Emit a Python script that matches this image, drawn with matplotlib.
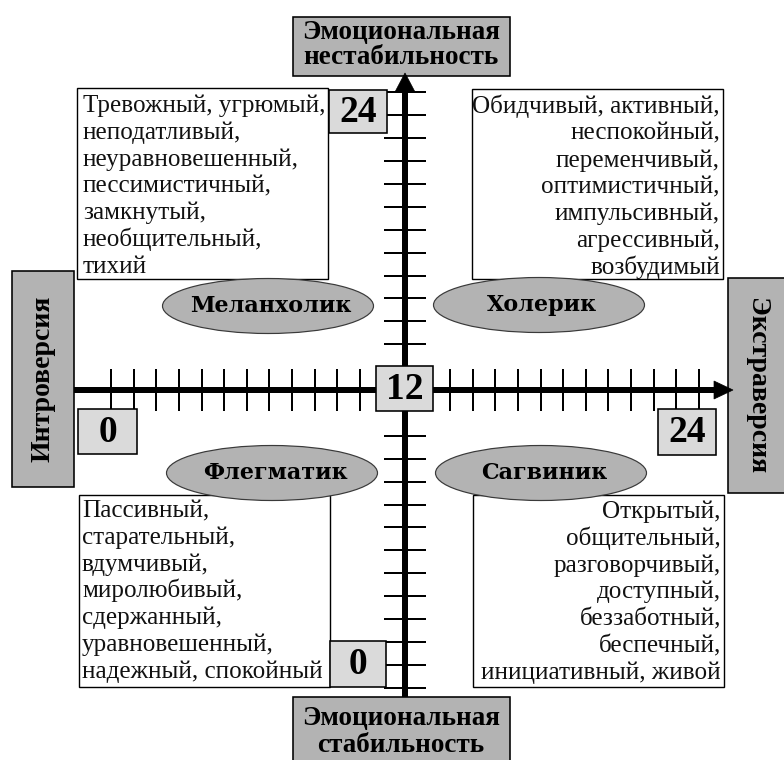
import matplotlib
matplotlib.use("Agg")
import matplotlib.pyplot as plt
from matplotlib.patches import Rectangle, Ellipse, Polygon

# ---------------- data ----------------
axis_top = "Эмоциональная\nнестабильность"
axis_bottom = "Эмоциональная\nстабильность"
axis_left = "Интроверсия"
axis_right = "Экстраверсия"

temperaments = ["Меланхолик", "Холерик", "Флегматик", "Сагвиник"]

traits_melancholic = ["Тревожный, угрюмый,", "неподатливый,", "неуравновешенный,",
                      "пессимистичный,", "замкнутый,", "необщительный,", "тихий"]
traits_choleric = ["Обидчивый, активный,", "неспокойный,", "переменчивый,",
                   "оптимистичный,", "импульсивный,", "агрессивный,", "возбудимый"]
traits_phlegmatic = ["Пассивный,", "старательный,", "вдумчивый,", "миролюбивый,",
                     "сдержанный,", "уравновешенный,", "надежный, спокойный"]
traits_sanguine = ["Открытый,", "общительный,", "разговорчивый,", "доступный,",
                   "беззаботный,", "беспечный,", "инициативный, живой"]

scale_min, scale_mid, scale_max = "0", "12", "24"
tick_steps = [k for k in range(-13, 14) if abs(k) >= 2]

# ---------------- layout ----------------
W, H = 784, 760
fig = plt.figure(figsize=(W / 100, H / 100), dpi=100)
ax = fig.add_axes([0, 0, 1, 1])
ax.set_xlim(0, W)
ax.set_ylim(H, 0)
ax.axis("off")

PX = 0.72  # px -> pt
GRAY = "#b3b3b3"
LIGHT = "#dadada"
cx, cy = 405, 390
sx, sy = 22.6, 22.9

BODY = dict(family="Liberation Serif", fontsize=18.1, color="#111111")
LAB = dict(family="Liberation Serif", fontweight="bold", fontsize=19.5, color="black")

def box(x0, y0, x1, y1, fc, lw=1.6, z=3):
    ax.add_patch(Rectangle((x0, y0), x1 - x0, y1 - y0, facecolor=fc,
                           edgecolor="black", lw=lw * PX, zorder=z))

# axis label boxes
box(293, 17, 510, 76, GRAY)
ax.text(401, 33, axis_top.split("\n")[0], ha="center", va="center", zorder=5, **LAB)
ax.text(401, 58, axis_top.split("\n")[1], ha="center", va="center", zorder=5, **LAB)
box(293, 697, 510, 775, GRAY)
ax.text(401, 718, axis_bottom.split("\n")[0], ha="center", va="center", zorder=5, **LAB)
ax.text(401, 745, axis_bottom.split("\n")[1], ha="center", va="center", zorder=5, **LAB)
box(12, 271, 74, 487, GRAY)
ax.text(43, 379, axis_left, rotation=90, ha="center", va="center", zorder=5,
        family="Liberation Serif", fontweight="bold", fontsize=20)
box(728, 278, 790, 493, GRAY)
ax.text(757, 386, axis_right, rotation=-90, ha="center", va="center", zorder=5,
        family="Liberation Serif", fontweight="bold", fontsize=20)

# trait boxes
box(77, 88, 328, 279, "white", lw=1.4, z=2)
box(472, 89, 723, 279, "white", lw=1.4, z=2)
box(79, 495, 330, 687, "white", lw=1.4, z=2)
box(473, 495, 724, 687, "white", lw=1.4, z=2)

def lines(items, x, y0, ha):
    for i, s in enumerate(items):
        ax.text(x, y0 + i * 26.8, s, ha=ha, va="baseline", zorder=4, **BODY)

lines(traits_melancholic, 83, 112, "left")
lines(traits_choleric, 720, 113, "right")
lines(traits_phlegmatic, 82, 517, "left")
lines(traits_sanguine, 721, 518, "right")

# main axes
ax.plot([74, 716], [cy, cy], color="black", lw=6 * PX, solid_capstyle="butt", zorder=6)
ax.add_patch(Polygon([[733, cy], [714, cy - 9], [714, cy + 9]], closed=True,
                     facecolor="black", edgecolor="black", lw=0.5, zorder=6))
ax.plot([cx, cx], [697, 90], color="black", lw=6 * PX, solid_capstyle="butt", zorder=6)
ax.add_patch(Polygon([[cx, 73], [cx - 10, 92], [cx + 10, 92]], closed=True,
                     facecolor="black", edgecolor="black", lw=0.5, zorder=6))
for k in tick_steps:
    x = cx + k * sx
    ax.plot([x, x], [cy - 20, cy + 20], color="black", lw=2 * PX, zorder=6)
    y = cy + k * sy
    ax.plot([cx - 20, cx + 20], [y, y], color="black", lw=2 * PX, zorder=6)

# ellipses
ELL = [(268, 306), (539, 305), (272, 473), (541, 473)]
for (ex, ey), name in zip(ELL, temperaments):
    ax.add_patch(Ellipse((ex, ey), 211, 55, facecolor=GRAY, edgecolor="#3a3a3a",
                         lw=1.2 * PX, zorder=7))
    ax.text(ex + 3, ey, name, ha="center", va="center", zorder=8,
            family="DejaVu Serif", fontweight="bold", fontsize=16)

# number boxes
NUM = dict(family="Liberation Serif", fontweight="bold", fontsize=27)
for (x0, y0, x1, y1), s in [((329, 90, 387, 133), scale_max),
                            ((376, 366, 433, 411), scale_mid),
                            ((78, 409, 137, 454), scale_min),
                            ((658, 409, 716, 455), scale_max),
                            ((330, 641, 386, 687), scale_min)]:
    box(x0, y0, x1, y1, LIGHT, lw=1.6, z=9)
    ax.text((x0 + x1) / 2, (y0 + y1) / 2 + 1, s, ha="center", va="center", zorder=10, **NUM)

fig.savefig("out.png", dpi=100)
